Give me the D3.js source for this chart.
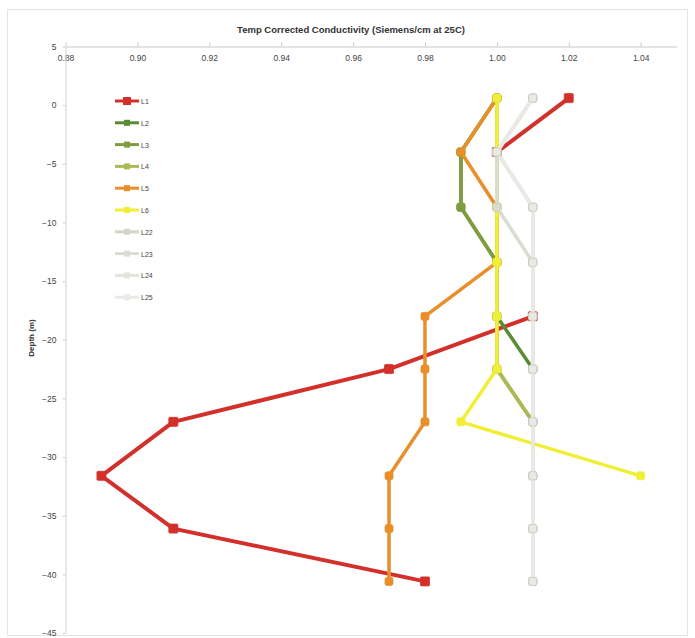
<!DOCTYPE html>
<html>
<head>
<meta charset="utf-8">
<script src="https://cdn.jsdelivr.net/npm/d3@7"></script>
<style>
  html, body { margin: 0; padding: 0; background: #fff; }
  svg { display: block; font-family: "Liberation Sans", Arial, sans-serif; }
</style>
</head>
<body>
<svg id="chart" width="695" height="638"></svg>
<script>
// Sampling depths (m) shared by every profile
const depths = [0.6, -4.0, -8.7, -13.4, -18.0, -22.5, -27.0, -31.6, -36.1, -40.6];

// Conductivity profiles, one value per depth (null = no reading)
const L1  = [1.02, 1.00, null, null, 1.01, 0.97, 0.91, 0.89, 0.91, 0.98];
const L2  = [1.00, 0.99, 0.99, 1.00, 1.00, 1.01, null, null, null, null];
const L3  = [1.00, 0.99, 0.99, 1.00, 1.00, 1.00, 1.01, null, null, null];
const L4  = [1.00, 1.00, 1.00, 1.00, 1.00, 1.00, 1.01, null, null, null];
const L5  = [1.00, 0.99, 1.00, 1.00, 0.98, 0.98, 0.98, 0.97, 0.97, 0.97];
const L6  = [1.00, 1.00, 1.00, 1.00, 1.00, 1.00, 0.99, 1.04, null, null];
const L22 = [1.01, 1.00, 1.01, 1.01, 1.01, 1.01, 1.01, 1.01, 1.01, 1.01];
const L23 = [1.01, 1.00, 1.00, 1.01, 1.01, 1.01, 1.01, 1.01, 1.01, 1.01];
const L24 = [1.01, 1.00, 1.01, 1.01, 1.01, 1.01, 1.01, 1.01, 1.01, 1.01];
const L25 = [1.01, 1.00, 1.01, 1.01, 1.01, 1.01, 1.01, 1.01, 1.01, 1.01];

const seriesNames = ["L1", "L2", "L3", "L4", "L5", "L6", "L22", "L23", "L24", "L25"];
const seriesValues = [L1, L2, L3, L4, L5, L6, L22, L23, L24, L25];
const seriesColors = ["#d3302c", "#5a8b35", "#7f9c3e", "#aabb55", "#e98f2a", "#f1ee36",
                      "#d3d5c7", "#dadbd2", "#e2e3da", "#e9eae5"];

// Axis tick values
const xTicks = [0.88, 0.90, 0.92, 0.94, 0.96, 0.98, 1.00, 1.02, 1.04];
const yTicks = [5, 0, -5, -10, -15, -20, -25, -30, -35, -40, -45];

const titleText = "Temp Corrected Conductivity (Siemens/cm at 25C)";
const yTitle = "Depth (m)";

const svg = d3.select("#chart");

// Outer chart frame
svg.append("rect")
  .attr("x", 7.5).attr("y", 9.5).attr("width", 680).attr("height", 626)
  .attr("fill", "#fff").attr("stroke", "#e4e4e4");

const x = d3.scaleLinear().domain([0.88, 1.05]).range([65.5, 676.6]);
const y = d3.scaleLinear().domain([5, -45]).range([46.5, 633]);

svg.append("text")
  .attr("x", 351).attr("y", 33)
  .attr("text-anchor", "middle")
  .attr("font-size", 9.5).attr("font-weight", "bold").attr("fill", "#333")
  .text(titleText);

// Conductivity axis along the top
const xAxis = svg.append("g")
  .attr("transform", "translate(0,46.5)")
  .call(d3.axisBottom(x).tickValues(xTicks).tickFormat(d3.format(".2f"))
    .tickSizeInner(-4).tickSizeOuter(0).tickPadding(8));
xAxis.select(".domain").attr("stroke", "#c8c8c8");
xAxis.selectAll(".tick line").attr("stroke", "#c8c8c8");
xAxis.selectAll("text").attr("font-size", 8.5).attr("fill", "#444");

// Depth axis
const yAxis = svg.append("g")
  .attr("transform", "translate(65.5,0)")
  .call(d3.axisLeft(y).tickValues(yTicks).tickFormat(d3.format("d"))
    .tickSizeInner(3).tickSizeOuter(0).tickPadding(6));
yAxis.select(".domain").attr("stroke", "#d0d0d0");
yAxis.selectAll(".tick line").attr("stroke", "#d0d0d0");
yAxis.selectAll("text").attr("font-size", 8.5).attr("fill", "#444");

svg.append("text")
  .attr("transform", "translate(34,338) rotate(-90)")
  .attr("text-anchor", "middle")
  .attr("font-size", 8).attr("font-weight", "bold").attr("fill", "#333")
  .text(yTitle);

const line = d3.line()
  .defined(d => d.v != null)
  .x(d => x(d.v))
  .y(d => y(d.depth));

// Profiles, first series at the bottom
seriesNames.forEach((name, i) => {
  const pts = depths.map((depth, j) => ({ depth, v: seriesValues[i][j] }));
  const g = svg.append("g").attr("class", "series");
  const isRed = i === 0;
  g.append("path")
    .datum(pts)
    .attr("fill", "none")
    .attr("stroke", seriesColors[i])
    .attr("stroke-width", isRed ? 4 : 3.5)
    .attr("stroke-linejoin", "round")
    .attr("d", line);
  const s = isRed ? 9 : 8;
  g.selectAll("rect")
    .data(pts.filter(d => d.v != null))
    .join("rect")
    .attr("x", d => x(d.v) - s / 2)
    .attr("y", d => y(d.depth) - s / 2)
    .attr("width", s).attr("height", s)
    .attr("rx", isRed ? 1 : 2)
    .attr("fill", seriesColors[i])
    .attr("stroke", i >= 6 ? "#c9cbc0" : seriesColors[i])
    .attr("stroke-width", 0.8);
});

// Legend
const legend = svg.append("g").attr("transform", "translate(115,101)");
seriesNames.forEach((name, i) => {
  const row = legend.append("g").attr("transform", `translate(0,${i * 21.8})`);
  row.append("line")
    .attr("x1", 0).attr("x2", 24).attr("y1", 0).attr("y2", 0)
    .attr("stroke", seriesColors[i]).attr("stroke-width", 3);
  const s = i === 0 ? 8 : 6;
  row.append("rect")
    .attr("x", 12 - s / 2).attr("y", -s / 2).attr("width", s).attr("height", s)
    .attr("fill", seriesColors[i]);
  row.append("text")
    .attr("x", 26).attr("y", 3)
    .attr("font-size", 7).attr("fill", "#444")
    .text(name);
});
</script>
</body>
</html>
